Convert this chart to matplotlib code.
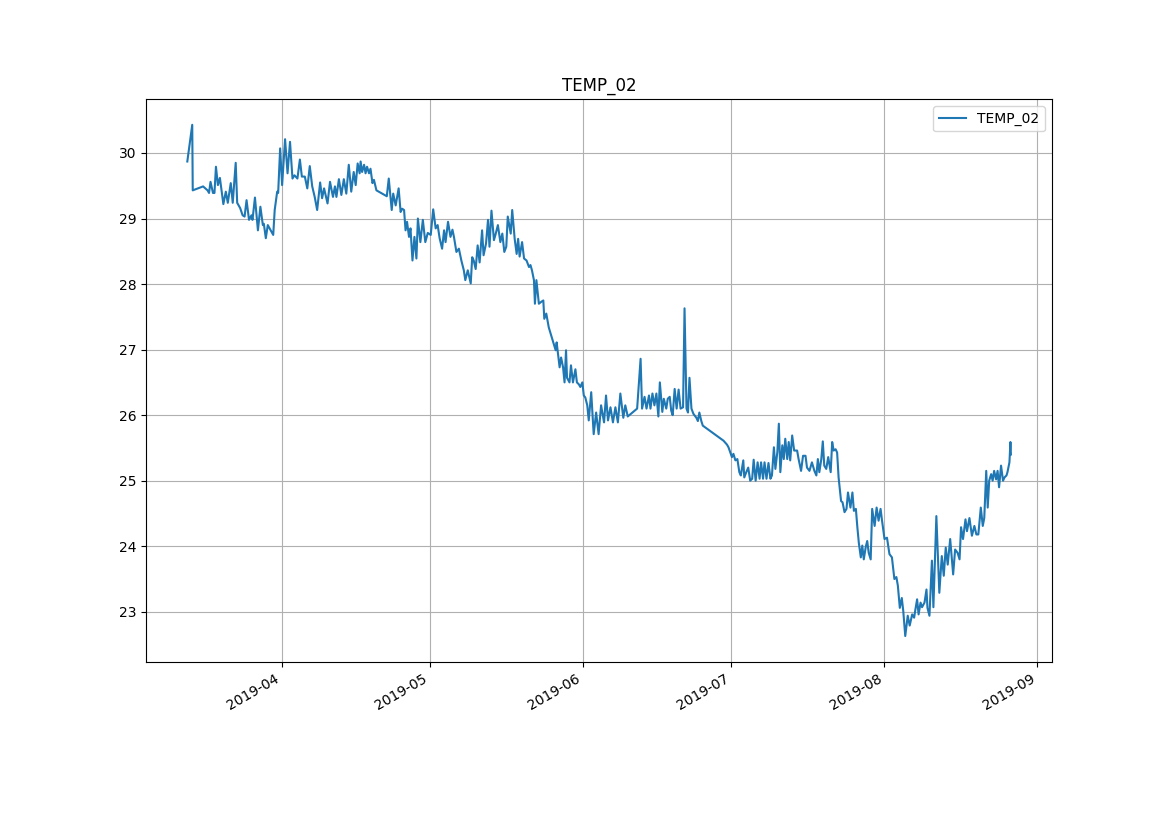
import numpy as np
import pandas as pd
import matplotlib
matplotlib.use("Agg")
import matplotlib.pyplot as plt

# days since 2019-04-01 and TEMP_02 readings
days = [
    -19.1, -18.1, -18.0, -15.9, -15.0, -14.7, -14.4, -13.9, -13.6, -13.3,
    -12.9, -12.5, -11.8, -11.3, -10.9, -10.3, -9.9, -9.3, -9.0, -8.4,
    -7.9, -7.5, -7.1, -6.6, -6.1, -5.9, -5.4, -4.8, -4.3, -3.8,
    -3.6, -3.2, -2.8, -2.2, -1.7, -1.4, -0.9, -0.7, -0.3, 0.1,
    0.7, 1.2, 1.7, 2.2, 2.6, 3.2, 3.7, 4.1, 4.7, 5.2,
    5.7, 6.2, 6.7, 7.2, 7.8, 8.2, 8.6, 9.3, 9.8, 10.4,
    10.8, 11.1, 11.6, 12.1, 12.6, 13.1, 13.6, 14.1, 14.6, 15.0,
    15.4, 15.8, 16.0, 16.3, 16.7, 17.0, 17.3, 17.7, 18.0, 18.4,
    18.7, 19.2, 21.3, 21.7, 22.3, 22.6, 23.1, 23.7, 24.1, 24.4,
    24.8, 25.1, 25.4, 25.8, 26.1, 26.5, 26.9, 27.3, 27.6, 28.1,
    28.6, 29.1, 29.6, 30.2, 30.7, 31.2, 31.6, 32.0, 32.5, 32.9,
    33.2, 33.7, 34.2, 34.6, 34.9, 35.4, 35.9, 36.4, 36.9, 37.2,
    37.7, 38.3, 38.6, 38.9, 39.3, 39.7, 40.1, 40.6, 40.9, 41.4,
    41.8, 42.1, 42.5, 43.0, 43.3, 43.8, 44.3, 44.7, 45.1, 45.5,
    45.8, 46.4, 46.7, 47.2, 47.6, 47.9, 48.2, 48.7, 49.1, 49.6,
    50.1, 50.4, 50.7, 51.1, 51.3, 51.6, 52.1, 52.6, 53.0, 53.2,
    53.6, 54.1, 54.7, 55.1, 55.5, 55.7, 56.3, 56.6, 57.0, 57.3,
    57.6, 57.8, 58.3, 58.6, 59.0, 59.5, 59.8, 60.2, 60.5, 60.9,
    61.2, 61.5, 61.9, 62.2, 62.7, 63.2, 63.7, 64.2, 64.7, 65.3,
    65.7, 66.1, 66.6, 67.1, 67.6, 68.1, 68.6, 69.2, 69.6, 70.1,
    72.0, 72.7, 73.0, 73.5, 73.9, 74.4, 74.7, 75.1, 75.5, 75.9,
    76.3, 76.6, 77.1, 77.4, 77.9, 78.2, 78.6, 78.9, 79.2, 79.6,
    80.0, 80.4, 80.8, 81.3, 81.6, 82.0, 82.3, 82.6, 83.0, 83.4,
    84.0, 84.3, 84.6, 85.0, 85.3, 89.5, 90.2, 90.5, 91.2, 91.5,
    91.9, 92.3, 92.7, 93.0, 93.5, 93.7, 94.1, 94.5, 94.9, 95.3,
    95.6, 96.0, 96.4, 96.8, 97.1, 97.5, 97.8, 98.2, 98.6, 99.0,
    99.3, 99.7, 100.0, 100.4, 100.7, 101.0, 101.4, 101.7, 102.0, 102.4,
    102.7, 103.0, 103.4, 103.8, 104.4, 104.7, 105.2, 105.6, 106.1, 106.4,
    106.9, 107.4, 107.9, 108.3, 108.6, 108.9, 109.3, 109.6, 109.9, 110.3,
    110.7, 111.2, 111.5, 111.8, 112.2, 112.5, 112.8, 113.3, 113.6, 114.0,
    114.4, 114.7, 115.2, 115.6, 115.9, 116.3, 116.6, 116.9, 117.3, 117.6,
    117.9, 118.3, 118.6, 118.9, 119.3, 119.6, 120.1, 120.5, 120.9, 121.3,
    121.6, 122.1, 122.6, 123.1, 123.6, 124.1, 124.5, 124.8, 125.2, 125.6,
    125.9, 126.3, 126.8, 127.2, 127.7, 128.1, 128.3, 128.7, 129.0, 129.4,
    129.7, 130.2, 130.6, 130.8, 131.2, 131.7, 132.0, 132.6, 133.2, 133.7,
    134.1, 134.5, 134.9, 135.4, 136.0, 136.4, 136.9, 137.3, 137.6, 138.0,
    138.5, 138.8, 139.3, 139.8, 140.3, 140.7, 141.1, 141.6, 142.0, 142.3,
    142.7, 143.0, 143.3, 143.7, 144.0, 144.3, 144.7, 145.0, 145.3, 145.7,
    146.1, 146.4, 146.8, 147.0, 147.4, 147.6, 147.7,
]
temp_02 = [
    29.87, 30.43, 29.43, 29.49, 29.43, 29.39, 29.56, 29.39, 29.39, 29.79,
    29.51, 29.62, 29.22, 29.41, 29.24, 29.54, 29.24, 29.85, 29.24, 29.16,
    29.05, 29.03, 29.28, 28.98, 29.05, 28.98, 29.32, 28.82, 29.18, 28.90,
    28.92, 28.70, 28.90, 28.82, 28.75, 29.13, 29.41, 29.39, 30.07, 29.51,
    30.21, 29.69, 30.17, 29.61, 29.66, 29.61, 29.90, 29.64, 29.64, 29.46,
    29.80, 29.49, 29.33, 29.13, 29.55, 29.31, 29.46, 29.23, 29.56, 29.33,
    29.49, 29.33, 29.60, 29.36, 29.60, 29.38, 29.82, 29.41, 29.71, 29.51,
    29.84, 29.69, 29.87, 29.71, 29.82, 29.69, 29.79, 29.69, 29.76, 29.54,
    29.59, 29.43, 29.34, 29.61, 29.13, 29.38, 29.20, 29.46, 29.10, 29.15,
    29.13, 28.82, 28.95, 28.72, 28.85, 28.36, 28.72, 28.39, 29.00, 28.64,
    28.98, 28.64, 28.78, 28.75, 29.14, 28.85, 28.90, 28.70, 28.54, 28.82,
    28.64, 28.95, 28.72, 28.83, 28.72, 28.49, 28.54, 28.36, 28.21, 28.06,
    28.21, 28.01, 28.41, 28.36, 28.23, 28.59, 28.33, 28.82, 28.44, 28.62,
    28.98, 28.57, 29.12, 28.67, 28.75, 28.90, 28.64, 28.77, 28.49, 28.57,
    29.03, 28.77, 29.13, 28.69, 28.46, 28.69, 28.42, 28.64, 28.39, 28.36,
    28.26, 28.29, 28.21, 28.06, 27.70, 28.06, 27.70, 27.73, 27.75, 27.47,
    27.55, 27.34, 27.19, 27.09, 26.99, 27.11, 26.73, 26.88, 26.73, 26.50,
    26.99, 26.57, 26.50, 26.76, 26.50, 26.70, 26.50, 26.47, 26.43, 26.50,
    26.30, 26.27, 26.15, 25.92, 26.35, 25.71, 26.04, 25.71, 26.15, 25.89,
    26.30, 25.92, 26.12, 25.89, 26.12, 25.89, 26.33, 25.96, 26.15, 25.98,
    26.10, 26.86, 26.10, 26.28, 26.10, 26.30, 26.10, 26.33, 26.15, 26.33,
    25.98, 26.50, 26.05, 26.25, 26.10, 26.25, 26.28, 26.07, 26.00, 26.40,
    26.10, 26.39, 26.10, 26.12, 27.63, 26.10, 26.04, 26.57, 26.10, 26.02,
    25.96, 25.91, 26.04, 25.91, 25.84, 25.61, 25.55, 25.51, 25.36, 25.41,
    25.31, 25.33, 25.13, 25.08, 25.31, 25.05, 25.13, 25.20, 25.00, 25.03,
    25.32, 25.00, 25.28, 25.03, 25.28, 25.03, 25.28, 25.03, 25.27, 25.03,
    25.08, 25.51, 25.18, 25.44, 25.87, 25.13, 25.54, 25.33, 25.64, 25.33,
    25.59, 25.31, 25.69, 25.46, 25.46, 25.33, 25.15, 25.38, 25.38, 25.20,
    25.15, 25.28, 25.15, 25.08, 25.33, 25.13, 25.33, 25.60, 25.23, 25.18,
    25.36, 25.13, 25.59, 25.46, 25.48, 25.43, 25.05, 24.69, 24.67, 24.52,
    24.57, 24.82, 24.59, 24.82, 24.54, 24.57, 24.29, 24.05, 23.83, 24.01,
    23.80, 23.99, 24.08, 23.90, 23.80, 24.57, 24.31, 24.59, 24.39, 24.57,
    24.39, 24.11, 24.13, 23.88, 23.83, 23.50, 23.53, 23.40, 23.06, 23.21,
    23.01, 22.63, 22.94, 22.79, 22.96, 22.91, 23.01, 23.19, 22.96, 23.14,
    23.07, 23.14, 23.34, 23.06, 22.94, 23.78, 23.07, 24.46, 23.29, 23.85,
    23.55, 23.98, 23.72, 24.11, 23.57, 23.95, 23.90, 23.80, 24.29, 24.11,
    24.41, 24.23, 24.43, 24.16, 24.31, 24.18, 24.18, 24.59, 24.31, 24.43,
    25.15, 24.59, 25.00, 25.10, 25.00, 25.15, 25.02, 25.15, 24.90, 25.23,
    25.00, 25.05, 25.08, 25.13, 25.28, 25.59, 25.40,
]

times = pd.Timestamp("2019-04-01") + pd.to_timedelta(days, unit="D")

fig = plt.figure(figsize=(11.69, 8.27), dpi=100)
ax = fig.add_subplot(111)
ax.plot(times, temp_02, label="TEMP_02")
ax.set_title("TEMP_02")
ax.grid(True)
ax.legend(loc="upper right")
fig.autofmt_xdate()

fig.savefig("out.png", dpi=100)
